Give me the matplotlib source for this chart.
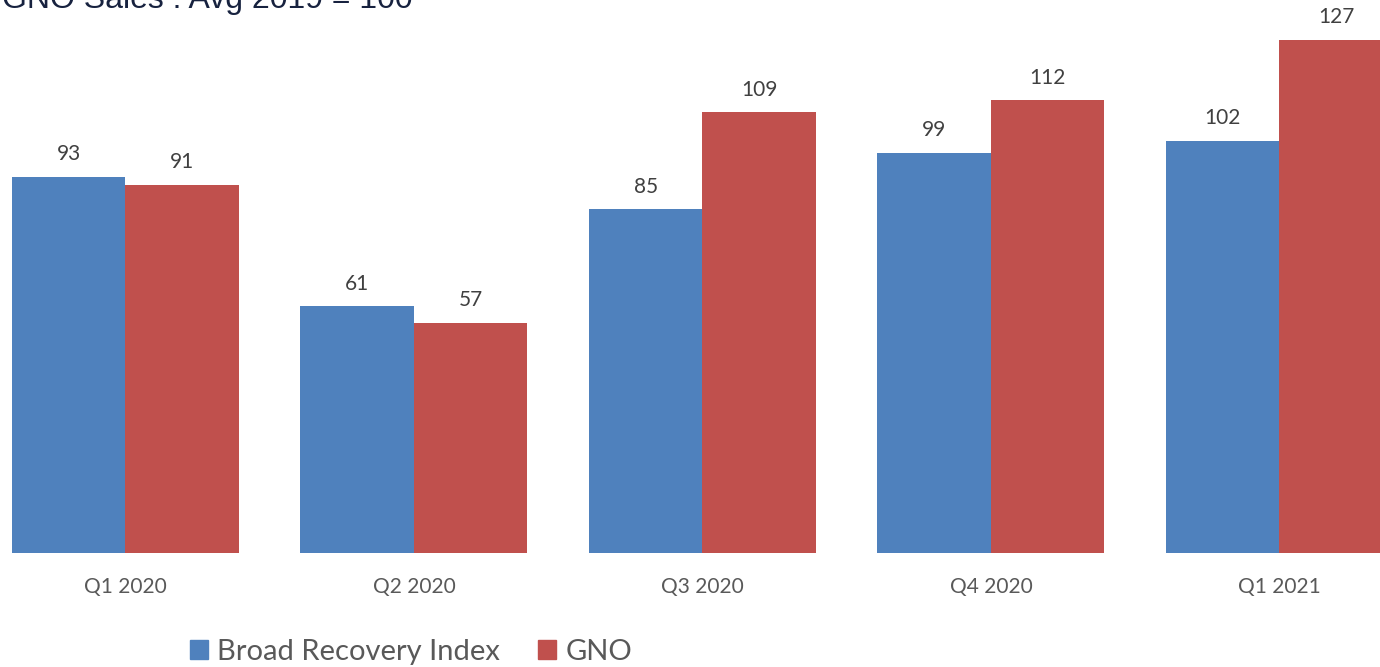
import numpy as np
from matplotlib import pyplot as plt
from matplotlib.patches import Patch

categories = ["Q1 2020", "Q2 2020", "Q3 2020", "Q4 2020", "Q1 2021"]
broad_recovery = [93, 61, 85, 99, 102]
gno = [91, 57, 109, 112, 127]
series_names = ["Broad Recovery Index", "GNO"]
title = "GNO Sales : Avg 2019 = 100"

blue = '#4F81BD'
red = '#C0504D'
label_col = '#404040'
tick_col = '#595959'

W, H = 1380, 667
fig = plt.figure(figsize=(W / 100, H / 100), dpi=100)
# axes: full width, bottom at baseline px 553, top at px 0
ax = fig.add_axes([0, (H - 553) / H, 1, 553 / H])

x = np.arange(len(categories))
bw = 113.5 / 288.5
b1 = ax.bar(x - bw / 2, broad_recovery, bw, color=blue, edgecolor='none')
b2 = ax.bar(x + bw / 2, gno, bw, color=red, edgecolor='none')

for bars in (b1, b2):
    for rect in bars:
        h = rect.get_height()
        ax.annotate(f"{h:g}", (rect.get_x() + rect.get_width() / 2, h),
                    xytext=(0, 12), textcoords='offset points',
                    ha='center', va='baseline', fontsize=15,
                    family='Lato', color=label_col)

ax.set_xlim(-125.5 / 288.5, (W - 125.5) / 288.5)
ax.set_ylim(0, 553 / (376 / 93))
ax.set_xticks(x)
ax.set_xticklabels(categories, family='Lato', fontsize=15, color=tick_col)
ax.tick_params(axis='x', length=0, pad=17)
ax.set_yticks([])
for s in ax.spines.values():
    s.set_visible(False)

fig.text(2 / W, 1 - 8 / H, title, family='Liberation Sans', fontsize=23,
         color='#17223F', ha='left', va='baseline')

handles = [Patch(color=blue), Patch(color=red)]
fig.legend(handles, series_names, loc='center', bbox_to_anchor=(411 / W, 1 - 652 / H),
           ncol=2, frameon=False, prop={'family': 'Lato', 'size': 21},
           labelcolor=tick_col, handlelength=0.62, handleheight=0.62,
           handletextpad=0.31, columnspacing=1.3)

fig.savefig('out.png', dpi=100)
